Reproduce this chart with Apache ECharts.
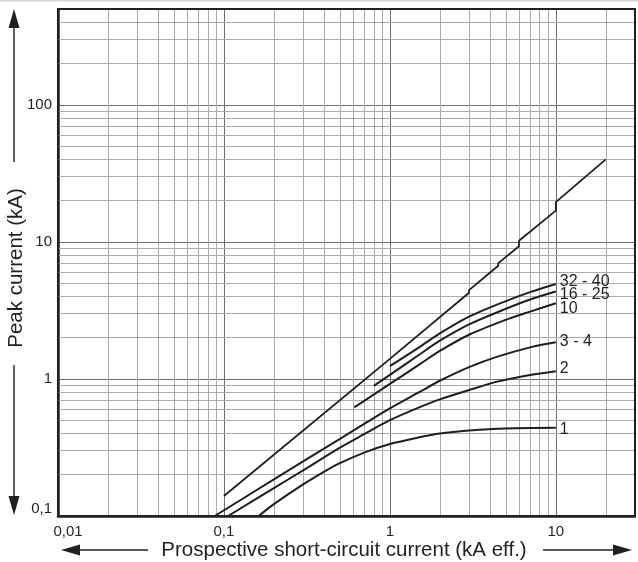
<!DOCTYPE html>
<html>
<head>
<meta charset="utf-8">
<title>Peak current</title>
<script src="https://cdn.jsdelivr.net/npm/echarts@6.0.0/dist/echarts.min.js"></script>
<style>
    html, body { margin: 0; padding: 0; background: #fff; }
    #peakChart { width: 638px; height: 562px; }
</style>
</head>
<body>
<div id="peakChart"></div>
<script>
var FONT = '"Liberation Sans", Arial, Helvetica, sans-serif';
var INK = '#231f20';

// tick labels (decades only)
var xTickValues = [0.01, 0.1, 1, 10];
var xTickLabels = ['0,01', '0,1', '1', '10'];
var yTickValues = [0.1, 1, 10, 100];
var yTickLabels = ['0,1', '1', '10', '100'];

// minor grid of the log paper
var xMinorLines = [0.02, 0.03, 0.04, 0.05, 0.06, 0.07, 0.08, 0.09,
    0.2, 0.3, 0.4, 0.5, 0.6, 0.7, 0.8, 0.9,
    2, 3, 4, 5, 6, 7, 8, 9, 20];
var yMinorLines = [0.2, 0.3, 0.4, 0.5, 0.6, 0.7, 0.8, 0.9,
    2, 3, 4, 5, 6, 7, 8, 9,
    20, 30, 40, 50, 60, 70, 80, 90,
    200, 300, 400];

// curves: [prospective current kA eff., peak current kA]
var limitLine = [[0.1, 0.14], [1, 1.4], [3, 4.25], [3, 4.45], [4.5, 6.7], [4.5, 7.0],
    [6, 9.3], [6, 10.2], [10, 16.9], [10, 19.5], [20, 40]];
var curve3240 = [[1, 1.24], [1.5, 1.7], [2, 2.15], [3, 2.85], [5, 3.7], [7, 4.3], [10, 4.93]];
var curve1625 = [[0.8, 0.89], [1, 1.07], [1.5, 1.5], [2, 1.9], [3, 2.5], [5, 3.25], [7, 3.8], [10, 4.34]];
var curve10 = [[0.61, 0.62], [1, 0.92], [1.5, 1.27], [2, 1.6], [3, 2.1], [5, 2.7], [7, 3.1], [10, 3.57]];
var curve34 = [[0.088, 0.1], [0.2, 0.185], [0.3, 0.25], [0.5, 0.365], [0.7, 0.47], [1, 0.61],
    [1.5, 0.8], [2, 0.97], [3, 1.22], [4.5, 1.46], [7, 1.7], [10, 1.85]];
var curve2 = [[0.106, 0.1], [0.2, 0.16], [0.3, 0.215], [0.5, 0.315], [0.7, 0.395], [1, 0.5],
    [1.5, 0.62], [2, 0.71], [3, 0.83], [4.5, 0.96], [7, 1.07], [10, 1.14]];
var curve1 = [[0.162, 0.1], [0.2, 0.122], [0.3, 0.17], [0.4, 0.21], [0.5, 0.243], [0.7, 0.29],
    [1, 0.335], [1.5, 0.375], [2, 0.4], [3, 0.42], [5, 0.435], [10, 0.44]];

myPeakChart();

function tickLabel(values, labels, v) {
    for (var i = 0; i < values.length; i++) {
        if (Math.abs(v / values[i] - 1) < 1e-6) {
            // first label is pushed inside the corner like on the original
            return i === 0 ? '{first|' + labels[i] + '}' : labels[i];
        }
    }
    return '';
}

function curveSeries(name, data, offset) {
    return {
        name: name,
        type: 'line',
        data: data,
        z: 3,
        smooth: 0.3,
        showSymbol: false,
        symbol: 'none',
        silent: true,
        lineStyle: { color: '#1e1e1e', width: 2 },
        endLabel: {
            show: true,
            formatter: '{a}',
            distance: 4,
            offset: offset,
            color: INK,
            fontSize: 16,
            fontFamily: FONT
        }
    };
}

function arrow(x1, y1, x2, y2) {
    // shaft + head, head at (x2, y2)
    var dx = x2 - x1, dy = y2 - y1;
    var len = Math.sqrt(dx * dx + dy * dy);
    var ux = dx / len, uy = dy / len;
    var hl = 19, hw = 5.5;
    var bx = x2 - ux * hl, by = y2 - uy * hl;
    return [
        { type: 'line', shape: { x1: x1, y1: y1, x2: bx, y2: by },
          style: { stroke: INK, lineWidth: 1.4 } },
        { type: 'polygon', shape: { points: [[x2, y2], [bx - uy * hw, by + ux * hw], [bx + uy * hw, by - ux * hw]] },
          style: { fill: INK } }
    ];
}

function myPeakChart() {
    var dom = document.getElementById('peakChart');
    var myChart = echarts.init(dom, null, { renderer: 'canvas' });

    var minorMarks = [];
    xMinorLines.forEach(function (v) { minorMarks.push({ xAxis: v }); });
    yMinorLines.forEach(function (v) { minorMarks.push({ yAxis: v }); });

    var graphics = [
        { type: 'rect', shape: { x: 0, y: 0, width: 638, height: 1.5 }, style: { fill: '#d6d6d6' } },
        { type: 'text', x: 16, y: 268, rotation: Math.PI / 2,
          style: { text: 'Peak current (kA)', font: '20.5px ' + FONT, fill: INK, align: 'center', verticalAlign: 'middle' } },
        { type: 'text', x: 344, y: 550,
          style: { text: 'Prospective short-circuit current (kA eff.)', font: '20.5px ' + FONT, fill: INK, align: 'center', verticalAlign: 'middle' } }
    ];
    graphics = graphics.concat(arrow(14, 162, 14, 9), arrow(14, 365, 14, 515),
        arrow(148, 550, 61, 550), arrow(543, 550, 632, 550));

    var option = {
        animation: false,
        backgroundColor: '#fff',
        textStyle: { fontFamily: FONT },
        grid: {
            left: 58, right: 1, top: 9, bottom: 46,
            show: true, borderColor: INK, borderWidth: 2, z: 5
        },
        xAxis: {
            type: 'log',
            logBase: 10,
            min: 0.01,
            max: 30,
            axisLine: { show: true, onZero: false, lineStyle: { color: INK, width: 2.5 } },
            axisTick: { show: false },
            splitLine: { show: true, lineStyle: { color: '#6e6e6e', width: 1 } },
            axisLabel: {
                margin: 8,
                fontSize: 15,
                color: INK,
                formatter: function (v) { return tickLabel(xTickValues, xTickLabels, v); },
                rich: { first: { fontSize: 15, color: INK, padding: [0, 0, 0, 20] } }
            }
        },
        yAxis: {
            type: 'log',
            logBase: 10,
            min: 0.1,
            max: 500,
            axisLine: { show: true, onZero: false, lineStyle: { color: INK, width: 2.5 } },
            axisTick: { show: false },
            splitLine: { show: true, lineStyle: { color: '#6e6e6e', width: 1 } },
            axisLabel: {
                margin: 6,
                fontSize: 15,
                color: INK,
                formatter: function (v) { return tickLabel(yTickValues, yTickLabels, v); },
                rich: { first: { fontSize: 15, color: INK, padding: [0, 0, 14, 0] } }
            }
        },
        graphic: graphics,
        series: [
            {
                // minor grid
                type: 'line',
                data: [],
                z: 1,
                silent: true,
                markLine: {
                    z: 1,
                    silent: true,
                    symbol: ['none', 'none'],
                    label: { show: false },
                    lineStyle: { color: '#ababab', width: 1, type: 'solid' },
                    emphasis: { disabled: true },
                    data: minorMarks
                }
            },
            {
                type: 'line',
                data: limitLine,
                z: 3,
                showSymbol: false,
                symbol: 'none',
                silent: true,
                lineStyle: { color: '#1e1e1e', width: 1.8 }
            },
            curveSeries('32 - 40', curve3240, [0, -2]),
            curveSeries('16 - 25', curve1625, [0, 3]),
            curveSeries('10', curve10, [0, 5]),
            curveSeries('3 - 4', curve34, [0, -1]),
            curveSeries('2', curve2, [0, -3]),
            curveSeries('1', curve1, [0, 2])
        ]
    };

    if (option && typeof option === 'object') {
        myChart.setOption(option, true);
    }
}
</script>
</body>
</html>
